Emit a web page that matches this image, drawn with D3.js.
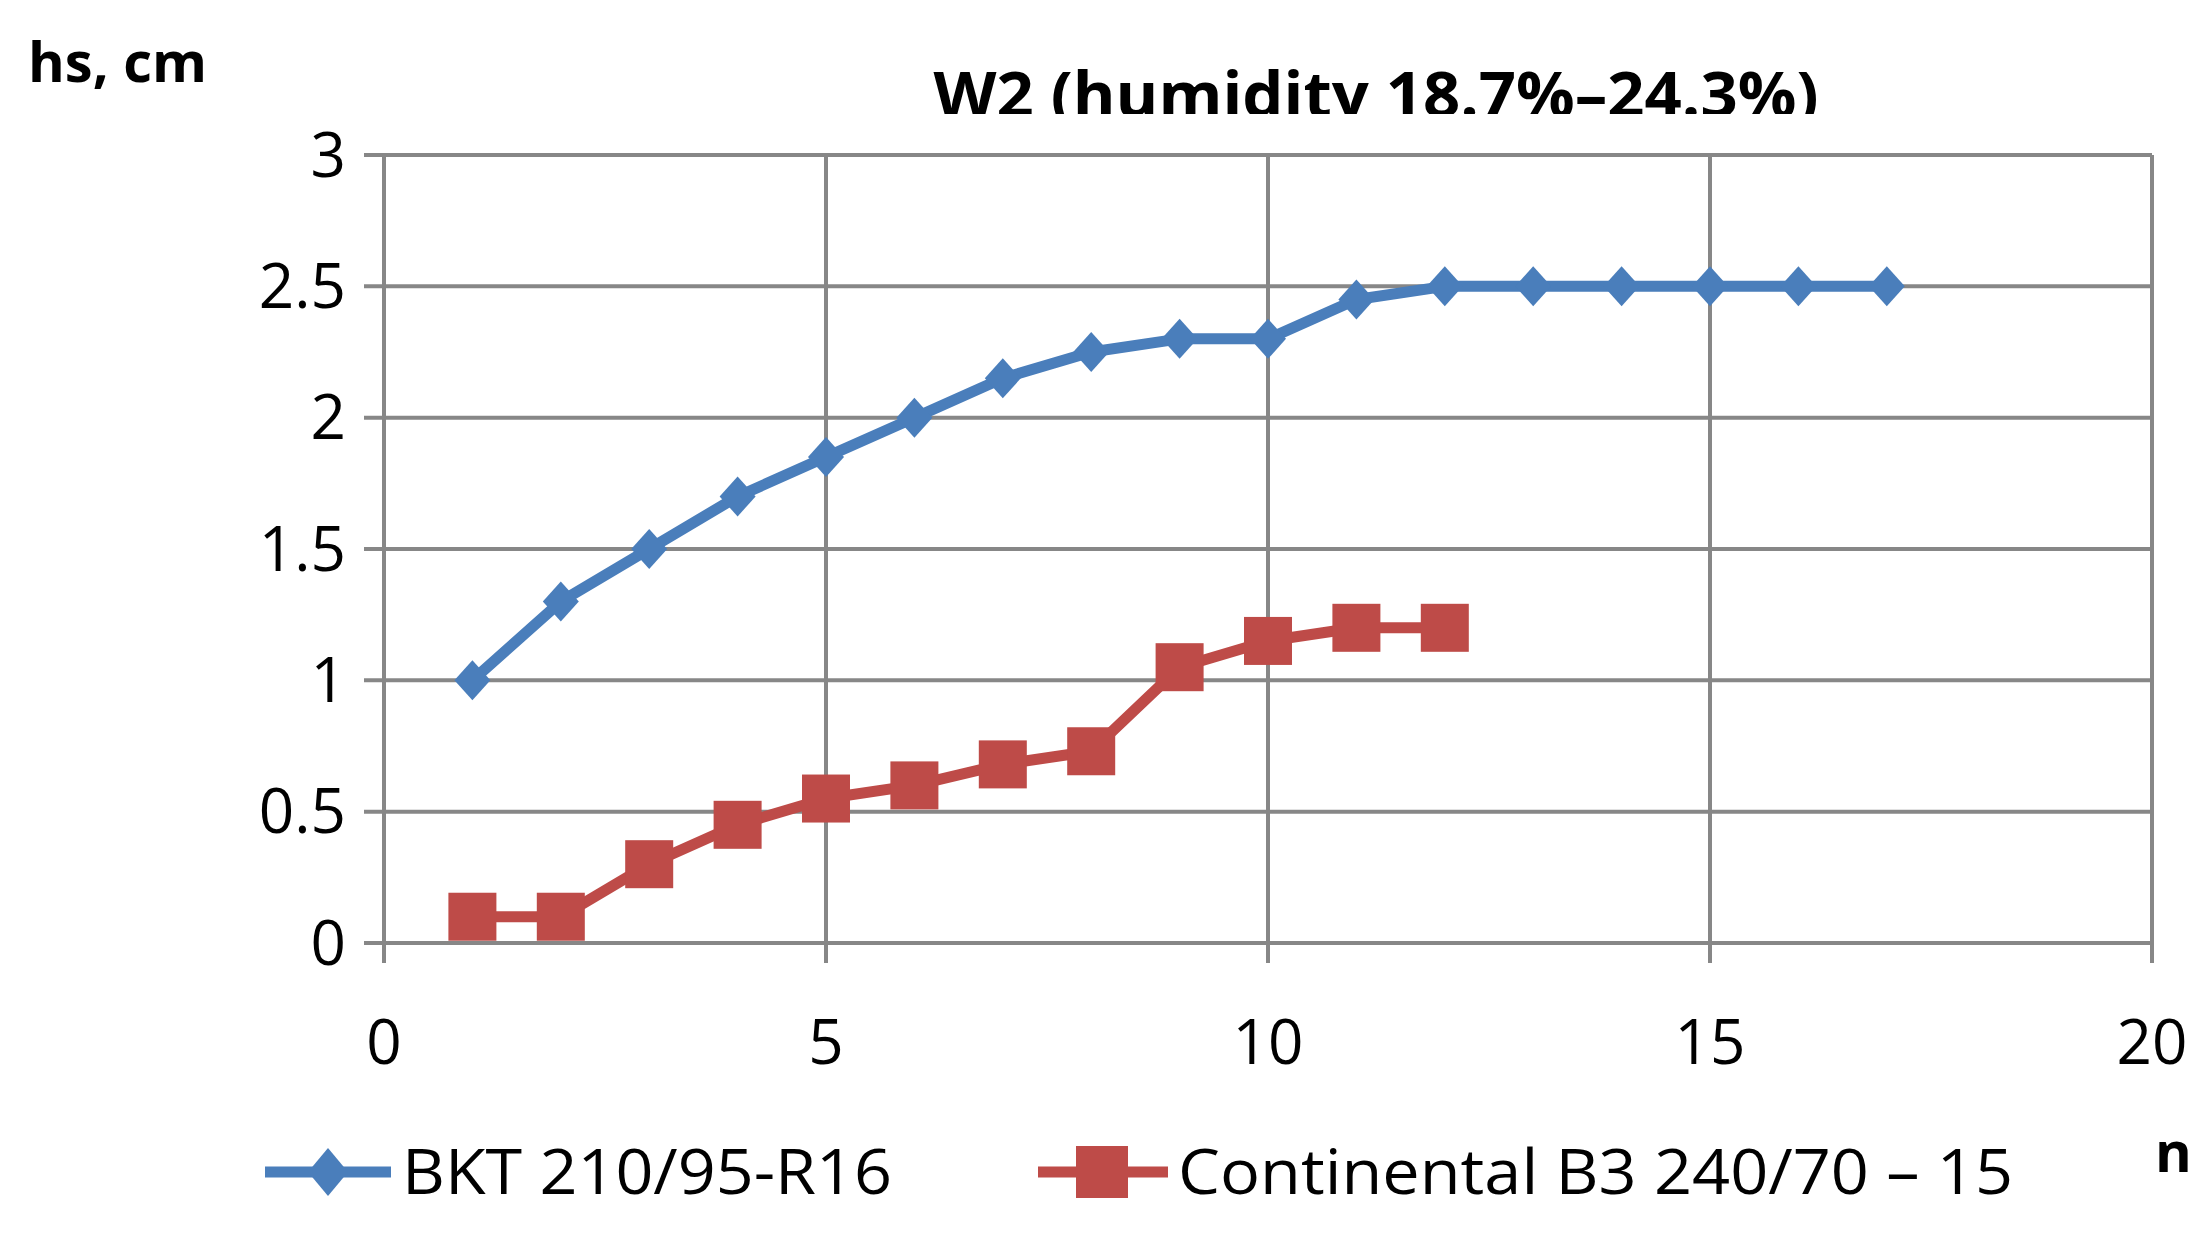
<!DOCTYPE html>
<html lang="en">
  <head>
    <meta charset="utf-8" />
    <style>
      body { margin: 0; background: #fff; }
      svg { font-family: "Open Sans", sans-serif; }
    </style>
  </head>
  <body>
    <svg width="2195" height="1245"></svg>
    <script src="https://d3js.org/d3.v7.min.js"></script>
    <script>
      const xTicks = [0, 5, 10, 15, 20];
      const yTicks = [0, 0.5, 1, 1.5, 2, 2.5, 3];
      const bktN = [1, 2, 3, 4, 5, 6, 7, 8, 9, 10, 11, 12, 13, 14, 15, 16, 17];
      const bktH = [1, 1.3, 1.5, 1.7, 1.85, 2, 2.15, 2.25, 2.3, 2.3, 2.45, 2.5, 2.5, 2.5, 2.5, 2.5, 2.5];
      const contN = [1, 2, 3, 4, 5, 6, 7, 8, 9, 10, 11, 12];
      const contH = [0.1, 0.1, 0.3, 0.45, 0.55, 0.6, 0.68, 0.73, 1.05, 1.15, 1.2, 1.2];

      const svg = d3.select("svg");
      const x = d3.scaleLinear().domain([0, 20]).range([384, 2152]);
      const y = d3.scaleLinear().domain([0, 3]).range([943, 155]);
      const grid = "#878787";

      // grid
      svg.append("g").selectAll("line").data(yTicks).join("line")
        .attr("x1", x(0) - 20).attr("x2", x(20))
        .attr("y1", (d) => y(d)).attr("y2", (d) => y(d))
        .attr("stroke", grid).attr("stroke-width", 4);
      svg.append("g").selectAll("line").data(xTicks).join("line")
        .attr("x1", (d) => x(d)).attr("x2", (d) => x(d))
        .attr("y1", y(3)).attr("y2", y(0) + 20)
        .attr("stroke", grid).attr("stroke-width", 4);

      // tick labels
      svg.append("g").selectAll("text").data(yTicks).join("text")
        .attr("x", x(0) - 38).attr("y", (d) => y(d)).attr("dy", "0.35em")
        .attr("text-anchor", "end").attr("font-size", 62)
        .text((d) => d);
      svg.append("g").selectAll("text").data(xTicks).join("text")
        .attr("x", (d) => x(d)).attr("y", 1064)
        .attr("text-anchor", "middle").attr("font-size", 62)
        .text((d) => d);

      // title (clipped at top like the original)
      svg.append("clipPath").attr("id", "tc").append("rect")
        .attr("x", 0).attr("y", 0).attr("width", 2195).attr("height", 114);
      svg.append("text").attr("clip-path", "url(#tc)")
        .attr("x", 1376).attr("y", 117).attr("text-anchor", "middle")
        .attr("font-size", 62).attr("font-weight", "bold")
        .attr("textLength", 885).attr("lengthAdjust", "spacingAndGlyphs")
        .text("W2 (humidity 18.7%–24.3%)");
      svg.append("text").attr("x", 28).attr("y", 82)
        .attr("font-size", 56).attr("font-weight", "bold").text("hs, cm");
      svg.append("text").attr("x", 2155).attr("y", 1172)
        .attr("font-size", 56).attr("font-weight", "bold").text("n");

      const line = d3.line();
      const blue = "#4a7ebb", red = "#be4b48";
      const bkt = bktN.map((n, i) => [x(n), y(bktH[i])]);
      const cont = contN.map((n, i) => [x(n), y(contH[i])]);

      svg.append("path").attr("d", line(bkt)).attr("fill", "none")
        .attr("stroke", blue).attr("stroke-width", 11).attr("stroke-linejoin", "round");
      svg.append("g").selectAll("path").data(bkt).join("path")
        .attr("d", (d) => `M${d[0]},${d[1] - 20}L${d[0] + 18},${d[1]}L${d[0]},${d[1] + 20}L${d[0] - 18},${d[1]}Z`)
        .attr("fill", blue);

      svg.append("path").attr("d", line(cont)).attr("fill", "none")
        .attr("stroke", red).attr("stroke-width", 11).attr("stroke-linejoin", "round");
      svg.append("g").selectAll("rect").data(cont).join("rect")
        .attr("x", (d) => d[0] - 24).attr("y", (d) => d[1] - 24)
        .attr("width", 48).attr("height", 48).attr("fill", red);

      // legend
      const ly = 1172;
      svg.append("line").attr("x1", 265).attr("x2", 391).attr("y1", ly).attr("y2", ly)
        .attr("stroke", blue).attr("stroke-width", 11);
      svg.append("path").attr("d", `M328,${ly - 24}L348,${ly}L328,${ly + 24}L308,${ly}Z`).attr("fill", blue);
      svg.append("text").attr("x", 402).attr("y", ly).attr("dy", "0.35em")
        .attr("font-size", 62).attr("textLength", 490).attr("lengthAdjust", "spacingAndGlyphs")
        .text("BKT 210/95-R16");
      svg.append("line").attr("x1", 1038).attr("x2", 1168).attr("y1", ly).attr("y2", ly)
        .attr("stroke", red).attr("stroke-width", 11);
      svg.append("rect").attr("x", 1076).attr("y", ly - 26).attr("width", 52).attr("height", 52).attr("fill", red);
      svg.append("text").attr("x", 1178).attr("y", ly).attr("dy", "0.35em")
        .attr("font-size", 62).attr("textLength", 835).attr("lengthAdjust", "spacingAndGlyphs")
        .text("Continental B3 240/70 – 15");
    </script>
  </body>
</html>
